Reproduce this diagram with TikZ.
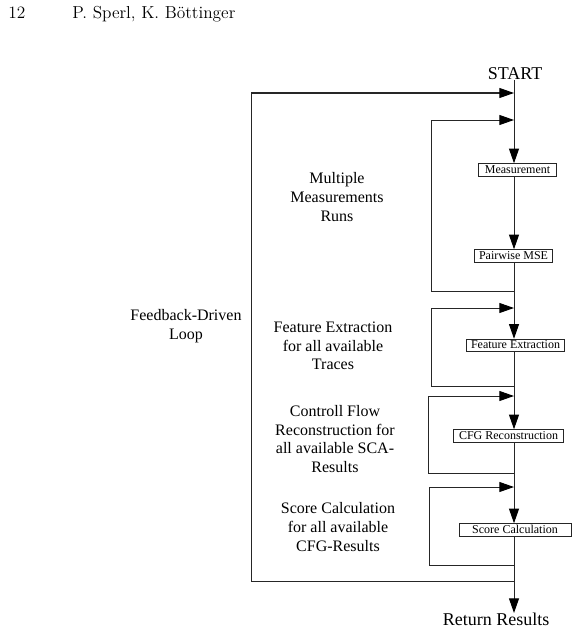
\documentclass[tikz,border=0pt]{standalone}
\usepackage{fontspec}
\newfontfamily\lib{Liberation Serif}
\usetikzlibrary{arrows.meta}
\begin{document}
\begin{tikzpicture}[x=0.75pt,y=-0.75pt,
  line/.style={draw=black!85,line width=0.75pt},
  arr/.style={line,-{Triangle[length=11pt,width=7.5pt,color=black]}},
  procbox/.style={draw=black!85,line width=0.6pt,font=\lib\fontsize{9}{10}\selectfont,
     inner xsep=1pt,inner ysep=0pt,minimum height=9.5pt,text height=6.6pt,text depth=1.6pt},
  lbl/.style={font=\lib\fontsize{12}{14}\selectfont,align=center,inner sep=0pt},
  big/.style={font=\lib\fontsize{13.5}{15}\selectfont,inner sep=0pt}]
\useasboundingbox (0,0) rectangle (578,635);
% header
\node[anchor=base west,inner sep=0pt,font=\fontsize{13}{15}\selectfont] (pg) at (8,19) {12};
\node[anchor=base west,inner sep=0pt,font=\fontsize{13}{15}\selectfont] (au) at (72,19) {P. Sperl, K. B\"ottinger};
% main column
\coordinate (L) at (514,0);
\node[big,anchor=south] (start) at (515,80) {START};
\node[procbox,minimum width=58pt] (meas) at (517.5,170) {Measurement};
\node[procbox,minimum width=58pt] (mse) at (513.5,256) {Pairwise MSE};
\node[procbox,minimum width=74pt] (feat) at (515.5,345.5) {Feature Extraction};
\node[procbox,minimum width=83pt] (cfg) at (508.5,436) {CFG Reconstruction};
\node[procbox,minimum width=84pt] (score) at (515,530) {Score Calculation};
\node[big,anchor=north] (ret) at (496,613) {Return Results};
% labels
\node[lbl] (t1) at (337,197) {Multiple\\Measurements\\Runs};
\node[lbl] (t2) at (333,346) {Feature Extraction\\for all available\\Traces};
\node[lbl] (t3) at (335,439) {Controll Flow\\Reconstruction for\\all available SCA-\\Results};
\node[lbl] (t4) at (338,527) {Score Calculation\\for all available\\CFG-Results};
\node[lbl] (t0) at (186,326) {Feedback-Driven\\Loop};
% main flow
\draw[arr] (L|-start.south) -- (L|-meas.north);
\draw[arr] (L|-meas.south) -- (L|-mse.north);
\draw[arr] (L|-mse.south) -- (L|-feat.north);
\draw[arr] (L|-feat.south) -- (L|-cfg.north);
\draw[arr] (L|-cfg.south) -- (L|-score.north);
\draw[arr] (L|-score.south) -- (L|-ret.north);
% loop corners
\coordinate (o1) at (514,581); \coordinate (o2) at (251,581);
\coordinate (o3) at (251,93);  \coordinate (o4) at (514,93);
\coordinate (a1) at (514,291); \coordinate (a2) at (431,291);
\coordinate (a3) at (431,120); \coordinate (a4) at (514,120);
\coordinate (b1) at (514,386); \coordinate (b2) at (431,386);
\coordinate (b3) at (431,308); \coordinate (b4) at (514,308);
\coordinate (c1) at (514,473); \coordinate (c2) at (428,473);
\coordinate (c3) at (428,396); \coordinate (c4) at (514,396);
\coordinate (d1) at (514,565); \coordinate (d2) at (429,565);
\coordinate (d3) at (429,487); \coordinate (d4) at (514,487);
\draw[arr] (o1) -- (o2) -- (o3) -- (o4);
\draw[arr] (a1) -- (a2) -- (a3) -- (a4);
\draw[arr] (b1) -- (b2) -- (b3) -- (b4);
\draw[arr] (c1) -- (c2) -- (c3) -- (c4);
\draw[arr] (d1) -- (d2) -- (d3) -- (d4);
\end{tikzpicture}
\end{document}
